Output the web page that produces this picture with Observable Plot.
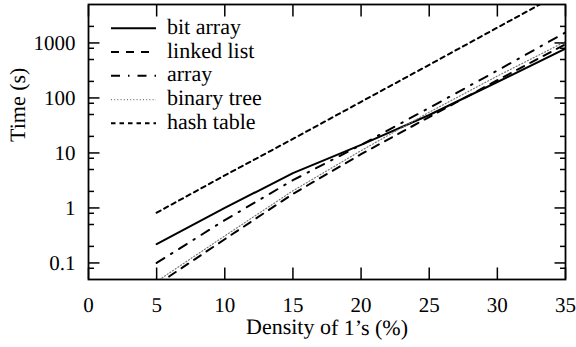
<!DOCTYPE html>
<html>
<head>
<meta charset="utf-8">
<script src="https://cdn.jsdelivr.net/npm/d3@7"></script>
<script src="https://cdn.jsdelivr.net/npm/@observablehq/plot@0.6"></script>
<style>
  body { margin: 0; background: #fff; }
</style>
</head>
<body>
<div id="chart"></div>
<script>
// Run time (s) against density of 1's (%) for five data structures
const density    = [5, 10, 15, 20, 25, 30, 35];
const bitArray   = [0.22, 1.0, 4.3, 14, 49, 195, 790];
const linkedList = [0.04, 0.27, 1.8, 9.5, 45, 210, 950];
const arrayTime  = [0.1, 0.6, 3.2, 14, 66, 315, 1550];
const binaryTree = [0.046, 0.31, 2.05, 11, 55, 250, 1060];
const hashTable  = [0.82, 3.9, 18, 85, 400, 1900, 9000];

const seriesNames = ["bit array", "linked list", "array", "binary tree", "hash table"];
const seriesValues = [bitArray, linkedList, arrayTime, binaryTree, hashTable];

const xTicks = [0, 5, 10, 15, 20, 25, 30, 35];
const yMajor = [0.1, 1, 10, 100, 1000];
const yMinor = [0.08, 0.2, 0.5, 0.8, 2, 5, 8, 20, 50, 80, 200, 500, 800, 2000];

const xLabel = "Density of 1’s (%)";
const yLabel = "Time (s)";

// stroke style per series
const styles = [
  {stroke: "#000", strokeWidth: 2, strokeDasharray: null},
  {stroke: "#000", strokeWidth: 2, strokeDasharray: "8,7"},
  {stroke: "#000", strokeWidth: 2, strokeDasharray: "9,8,1.5,8"},
  {stroke: "#777", strokeWidth: 1.2, strokeDasharray: "1,2.2"},
  {stroke: "#000", strokeWidth: 2, strokeDasharray: "4.5,4"}
];

const tables = seriesValues.map(vals => density.map((d, i) => ({density: d, time: vals[i]})));

const serif = "Liberation Serif";
const tickFont = 21;
const labelFont = 22;
const blank = () => "";

const chart = Plot.plot({
  width: 576,
  height: 347,
  marginTop: 4,
  marginBottom: 68,
  marginLeft: 88,
  marginRight: 11,
  style: {background: "#fff"},
  x: {domain: [0, 35], label: null},
  y: {type: "log", domain: [0.05, 5000], label: null},
  marks: [
    ...tables.map((t, k) => Plot.line(t, {x: "density", y: "time", clip: true, ...styles[k]})),
    Plot.frame({strokeWidth: 1.8}),
    Plot.axisX(xTicks, {anchor: "bottom", tickSize: -11.5, tickPadding: 29, fontSize: tickFont, strokeWidth: 1.5, label: null, fill: "#000"}),
    Plot.axisX(xTicks, {anchor: "top", tickSize: -11.5, tickFormat: blank, strokeWidth: 1.5, label: null}),
    Plot.axisY(yMajor, {anchor: "left", tickSize: -11.5, tickPadding: 24.5, fontSize: tickFont, strokeWidth: 1.5, label: null, fill: "#000", tickFormat: d => String(d)}),
    Plot.axisY(yMajor, {anchor: "right", tickSize: -11.5, tickFormat: blank, strokeWidth: 1.5, label: null}),
    Plot.axisY(yMinor, {anchor: "left", tickSize: -6, tickFormat: blank, strokeWidth: 1.5, label: null}),
    Plot.axisY(yMinor, {anchor: "right", tickSize: -6, tickFormat: blank, strokeWidth: 1.5, label: null}),
    Plot.text([xLabel], {frameAnchor: "bottom", dy: 55, lineAnchor: "bottom", fontSize: labelFont, fill: "#000"}),
    Plot.text([yLabel], {frameAnchor: "left", dx: -64, rotate: -90, lineAnchor: "bottom", fontSize: labelFont, fill: "#000"})
  ]
});

document.getElementById("chart").append(chart);

// key in the upper-left corner of the frame
const key = d3.select(chart).append("g").attr("class", "key");
seriesNames.forEach((name, i) => {
  const y = 28.3 + i * 23.75;
  const s = styles[i];
  key.append("line")
    .attr("x1", 111).attr("x2", 156).attr("y1", y).attr("y2", y)
    .attr("stroke", s.stroke).attr("stroke-width", s.strokeWidth)
    .attr("stroke-dasharray", s.strokeDasharray);
  key.append("text")
    .attr("x", 167).attr("y", y + 5.5)
    .attr("text-anchor", "start")
    .attr("font-size", labelFont).attr("fill", "#000")
    .text(name);
});

// every label in the serif face, drawn as outlines
const root = d3.select(chart)
  .attr("font-family", serif)
  .attr("text-rendering", "geometricPrecision")
  .style("font-family", serif);
root.selectAll("g").attr("font-family", null).attr("font-variant", null);
root.selectAll("text")
  .attr("font-family", serif)
  .attr("font-variant", null)
  .style("font-family", serif)
  .style("font-variant", "normal")
  .attr("transform", function() {
    const t = this.getAttribute("transform") || "";
    return /rotate/.test(t) ? t : (t + " rotate(0.001)").trim();
  });
</script>
</body>
</html>
